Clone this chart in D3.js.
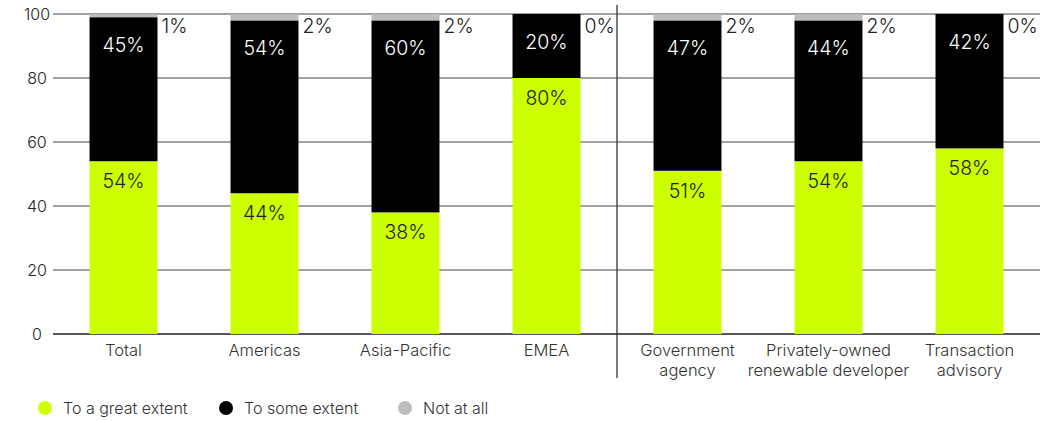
<!DOCTYPE html>
<html>
<head>
<meta charset="utf-8">
<script src="https://cdn.jsdelivr.net/npm/d3@7"></script>
<style>
  html, body { margin: 0; padding: 0; background: #fff; }
  svg { display: block; font-family: Inter, "Noto Sans", sans-serif; font-weight: 300; }
</style>
</head>
<body>
<svg id="chart" width="1043" height="421"></svg>
<script>
// Survey response shares by group (percent)
const categories = ["Total", "Americas", "Asia-Pacific", "EMEA", "Government agency", "Privately-owned renewable developer", "Transaction advisory"];
const categoryLines = [["Total"], ["Americas"], ["Asia-Pacific"], ["EMEA"], ["Government", "agency"], ["Privately-owned", "renewable developer"], ["Transaction", "advisory"]];
const greatExtent = [54, 44, 38, 80, 51, 54, 58];
const someExtent = [45, 54, 60, 20, 47, 44, 42];
const notAtAll = [1, 2, 2, 0, 2, 2, 0];
const seriesNames = ["To a great extent", "To some extent", "Not at all"];
const yTicks = [0, 20, 40, 60, 80, 100];

const colors = ["#ccff00", "#000000", "#bdbdbd"];

const svg = d3.select("#chart");
const margin = { left: 53, right: 3, top: 14, bottom: 87 };
const W = 1043, H = 421;

const x = d3.scaleBand().domain(categories).range([margin.left, W - margin.right]).paddingInner(0.518).paddingOuter(0.259);
const y = d3.scaleLinear().domain([0, 100]).range([H - margin.bottom, margin.top]);

// gridlines
svg.append("g").selectAll("line").data(yTicks).join("line")
  .attr("x1", margin.left).attr("x2", W - margin.right)
  .attr("y1", d => y(d)).attr("y2", d => y(d))
  .attr("stroke", d => d === 0 ? "#222" : "#444")
  .attr("stroke-width", d => d === 0 ? 1.6 : 1.2);

// y tick labels
svg.append("g").selectAll("text").data(yTicks).join("text")
  .attr("x", 37).attr("y", d => y(d) + 5.5)
  .attr("text-anchor", "middle")
  .attr("font-size", 16).attr("fill", "#222")
  .text(d => d);

// stacked bars
const rows = categories.map((c, i) => ({ c, vals: [greatExtent[i], someExtent[i], notAtAll[i]] }));
const stack = d3.stack().keys([0, 1, 2]).value((d, k) => d.vals[k]);
const stacked = stack(rows);

stacked.forEach((layer, k) => {
  svg.append("g").selectAll("rect").data(layer).join("rect")
    .attr("x", d => x(d.data.c))
    .attr("width", x.bandwidth())
    .attr("y", d => y(d[1]))
    .attr("height", d => Math.max(0, y(d[0]) - y(d[1])))
    .attr("fill", colors[k]);
});

// value labels: great extent inside, near segment top
svg.append("g").selectAll("text").data(stacked[0]).join("text")
  .attr("x", d => x(d.data.c) + x.bandwidth() / 2)
  .attr("y", d => y(d[1]) + 27)
  .attr("text-anchor", "middle").attr("font-size", 19.5).attr("fill", "#222")
  .text(d => d.data.vals[0] + "%");

// some extent inside, white
svg.append("g").selectAll("text").data(stacked[1]).join("text")
  .attr("x", d => x(d.data.c) + x.bandwidth() / 2)
  .attr("y", d => y(d[1]) + 35)
  .attr("text-anchor", "middle").attr("font-size", 19.5).attr("fill", "#fff")
  .text(d => d.data.vals[1] + "%");

// not at all, beside the bar top
svg.append("g").selectAll("text").data(stacked[2]).join("text")
  .attr("x", d => x(d.data.c) + x.bandwidth() + 4)
  .attr("y", y(100) + 19)
  .attr("text-anchor", "start").attr("font-size", 19.5).attr("fill", "#222")
  .text(d => d.data.vals[2] + "%");

// category labels
const catG = svg.append("g").selectAll("text").data(categories).join("text")
  .attr("x", d => x(d) + x.bandwidth() / 2)
  .attr("text-anchor", "middle").attr("font-size", 16.5).attr("fill", "#333");
catG.each(function (d, i) {
  d3.select(this).selectAll("tspan").data(categoryLines[i]).join("tspan")
    .attr("x", x(d) + x.bandwidth() / 2)
    .attr("y", (t, j) => 356 + j * 20)
    .text(t => t);
});

// divider between region and organisation groups
const divX = (x(categories[3]) + x.bandwidth() + x(categories[4])) / 2;
svg.append("line")
  .attr("x1", divX).attr("x2", divX).attr("y1", 5).attr("y2", 378)
  .attr("stroke", "#222").attr("stroke-width", 1.2);

// legend
const legendX = [45, 226, 405];
const lg = svg.append("g").selectAll("g").data(seriesNames).join("g")
  .attr("transform", (d, i) => `translate(${legendX[i]},408)`);
lg.append("circle").attr("r", 7).attr("fill", (d, i) => colors[i]);
lg.append("text").attr("x", 18).attr("y", 5.5).attr("font-size", 16).attr("fill", "#333").text(d => d);
</script>
</body>
</html>
